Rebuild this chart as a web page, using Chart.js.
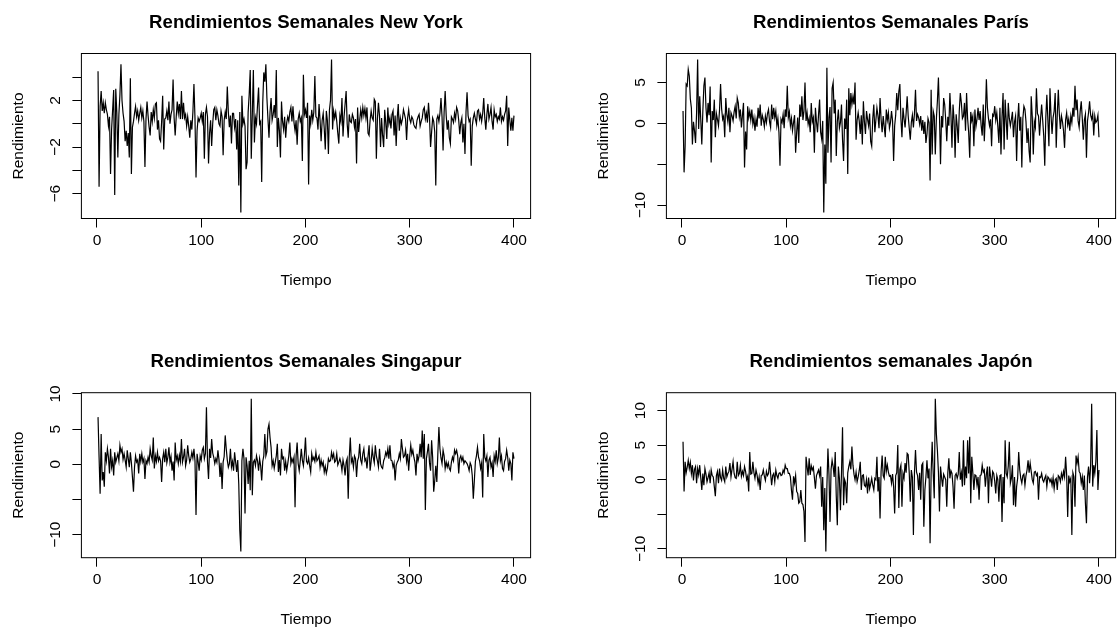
<!DOCTYPE html>
<html>
<head>
<meta charset="utf-8">
<script src="https://cdn.jsdelivr.net/npm/chart.js@4.4.1/dist/chart.umd.min.js"></script>
<style>
  body { margin: 0; background: #fff; width: 1118px; height: 632px; overflow: hidden; position: relative; }
  canvas { position: absolute; }
</style>
</head>
<body>
<canvas id="ny" width="559" height="316" style="left:0px;top:0px"></canvas>
<canvas id="paris" width="559" height="316" style="left:559px;top:0px"></canvas>
<canvas id="singapur" width="559" height="316" style="left:0px;top:316px"></canvas>
<canvas id="japon" width="559" height="316" style="left:559px;top:316px"></canvas>
<script>
// weekly returns (t = 1..400)
var nyRend = [
  4.5,-5.4,1.5,2.8,1.1,1.8,0.9,1.8,1.2,0.8, -0.2,0.6,-4.3,-0.5,1.2,2.9,-6.1,3.0,1.0,-2.9,
  0.8,2.5,5.1,2.0,0.9,0.2,-1.5,-0.6,-1.9,-0.8, -2.9,3.9,-4.3,-0.3,0.2,0.9,1.5,0.6,1.1,0.3,
  0.9,1.4,0.5,1.1,0.2,-3.7,0.4,1.9,0.7,-0.3, -1.0,1.0,0.2,1.2,0.5,1.7,1.8,-0.5,0.3,-1.3,
  -1.5,0.2,2.4,-2.2,0.4,0.5,1.1,0.3,1.9,0.0, 0.8,1.2,3.8,0.5,-1.0,0.6,1.9,0.9,1.7,0.4,
  2.8,0.4,1.8,0.5,0.8,-0.2,0.6,-0.2,-1.2,0.3, -0.5,1.0,3.4,0.5,-4.6,-0.6,0.5,0.2,0.5,0.9,
  0.2,1.0,-3.0,0.8,1.4,0.6,-3.4,-0.8,0.3,-1.9, 0.0,1.2,1.4,0.3,1.2,0.7,0.0,-0.2,1.1,0.6,
  -2.7,0.3,1.0,0.4,3.2,1.0,-0.3,0.7,-1.7,0.9, 0.9,-0.3,0.4,-2.2,0.3,-5.3,1.0,-7.6,2.4,0.0,
  0.4,-0.2,-3.9,-3.3,1.0,2.5,4.6,-3.0,0.8,4.6, -1.6,0.5,0.0,1.6,3.1,0.0,0.2,-5.0,1.8,4.4,
  3.6,5.1,2.2,0.4,-1.2,1.0,2.2,0.3,0.8,1.6, 0.5,4.6,-2.0,0.5,-0.6,-2.9,1.9,0.2,-0.5,0.6,
  -1.2,0.1,0.6,0.2,1.0,1.4,0.2,1.5,0.1,-0.6, 0.3,-1.8,0.4,0.9,0.2,0.5,-3.2,4.2,0.8,1.2,
  0.5,1.8,-5.2,0.7,0.0,1.2,0.3,1.0,4.1,0.6, 0.5,-0.5,1.7,0.3,-1.5,0.3,0.9,-0.4,-2.2,1.1,
  0.3,-2.6,1.2,2.0,5.5,-0.5,1.1,0.5,1.0,0.2, -0.8,-1.7,0.7,0.2,2.2,-1.1,0.6,1.7,2.8,0.0,
  -1.2,0.8,0.2,0.1,0.8,0.5,-0.3,0.4,-3.4,1.4, -0.7,0.3,1.2,0.5,1.4,0.7,1.3,0.5,1.4,-0.8,
  -1.0,0.3,1.1,0.5,0.3,2.1,1.9,-3.0,0.4,1.8, 0.7,-2.0,0.5,-1.0,-2.0,1.2,0.1,-1.3,1.4,0.0,
  0.5,-0.4,0.8,1.1,-1.0,0.7,-1.9,0.5,1.7,-0.6, 0.5,0.0,0.4,1.2,0.8,0.4,-1.4,0.5,1.2,0.4,
  0.1,0.6,0.4,-0.1,-0.3,-0.4,0.3,0.6,0.8,-0.2, 0.2,0.5,1.2,1.4,0.4,0.9,0.1,1.8,0.5,-2.0,
  -0.7,0.5,0.2,-0.7,-5.3,0.4,0.7,0.2,0.9,2.2, 0.6,-2.3,1.0,2.8,0.7,-0.5,0.3,-1.2,-1.7,0.6,
  0.4,0.1,0.9,0.4,1.4,1.1,0.3,-0.9,0.1,0.5, -1.6,0.0,-2.6,1.0,2.7,0.7,0.2,0.4,-3.6,-0.2,
  0.5,0.9,0.4,0.0,1.1,1.2,0.4,0.8,0.2,0.9, 2.2,0.5,-0.5,0.8,1.7,0.4,0.8,1.4,0.2,-0.5,
  1.2,0.6,0.8,0.2,0.6,0.4,1.4,0.2,0.6,0.3, 0.8,1.1,2.4,-1.9,1.4,0.3,-0.6,0.5,-0.6,0.7
];
var parisRend = [
  1.5,-6.0,-2.8,4.8,4.6,6.6,5.8,3.0,1.9,-2.6, 0.2,-0.9,-2.4,1.3,7.8,-0.7,3.3,0.5,-2.6,1.5,
  4.6,5.6,1.9,0.1,2.5,1.0,4.5,-4.8,1.5,0.4, 2.9,-1.7,1.2,0.5,-0.3,1.6,4.8,1.8,0.5,0.9,
  -1.7,3.1,1.1,0.2,1.9,-1.1,1.3,0.9,0.3,1.4, 2.1,0.6,3.1,2.5,0.8,1.7,-0.5,1.0,2.5,-5.4,
  -1.0,-3.2,2.1,0.7,1.5,0.4,1.7,-0.1,0.7,-0.9, 0.5,-0.4,1.9,0.6,2.3,-0.3,1.0,0.5,-0.4,0.9,
  0.1,1.2,1.7,0.2,-0.5,2.3,0.5,1.9,0.7,1.5, -0.3,0.6,-1.1,-5.2,0.5,0.1,1.1,-0.6,1.7,0.8,
  4.6,0.7,1.4,-0.3,0.6,-0.9,0.1,1.0,-3.6,-1.1, 0.7,-2.4,2.3,0.8,3.3,0.4,1.5,5.0,0.3,1.3,
  -0.1,0.6,-1.1,2.5,0.2,0.7,-3.6,1.9,0.2,-1.1, 1.1,2.9,-1.1,-1.9,0.3,-10.9,-2.6,-7.4,6.8,-3.6,
  0.7,2.0,-4.8,4.3,5.0,1.2,2.9,-4.0,0.2,1.7, -0.6,0.1,2.3,-2.0,-4.6,0.6,-0.7,2.9,-6.2,4.3,
  1.0,3.7,2.3,3.3,2.3,5.0,-2.0,0.4,1.3,0.3, -1.3,1.0,-2.6,2.7,0.2,-1.3,1.5,0.5,-0.3,1.2,
  -2.2,-2.8,0.6,2.3,-1.1,0.4,1.9,0.9,-0.6,3.1, 0.5,-1.1,0.9,-0.4,-1.7,1.7,0.4,1.3,-0.6,0.1,
  1.5,0.3,-4.6,-0.3,1.0,3.7,1.6,3.9,4.8,0.6, -1.7,1.9,0.6,-0.5,1.2,3.3,0.9,-0.6,-2.0,0.1,
  1.0,-0.5,1.2,4.1,0.3,1.1,0.7,-0.1,0.9,-0.9, 0.4,-1.3,0.2,-2.4,-1.3,0.6,0.1,-7.0,4.1,-3.8,
  1.5,0.9,-3.8,0.5,2.7,5.6,1.0,-5.0,0.9,-0.5, 3.1,2.3,0.4,-2.2,0.8,-0.3,3.7,1.0,-3.0,2.3,
  0.4,-4.2,1.1,-0.3,-2.4,1.5,3.7,2.5,0.6,0.9, 2.5,-0.9,3.7,0.6,-1.1,-4.2,1.4,0.3,0.9,-2.8,
  1.7,-0.4,0.5,1.9,0.4,1.5,-0.3,-1.5,2.3,-2.2, 0.8,5.4,1.9,0.6,-0.3,0.5,-2.8,1.1,0.9,2.1,
  0.4,1.3,-0.4,-2.4,1.9,-3.8,0.8,3.7,-3.2,2.9, 0.4,-2.0,2.5,0.6,-0.3,0.5,1.4,-1.7,0.2,0.9,
  -4.6,0.3,2.5,-0.9,0.8,-5.4,0.6,2.1,1.7,0.2, -2.4,-0.6,-3.4,-4.8,3.3,0.9,-3.8,0.2,-0.5,4.3,
  1.2,0.9,-1.5,0.6,2.3,0.4,-1.5,-5.2,0.7,3.5, 0.4,-2.8,4.3,1.0,-1.3,0.7,1.5,3.7,-3.0,1.0,
  4.1,1.1,-0.7,0.9,0.2,-0.9,-3.0,0.4,1.3,-0.2, 0.5,-0.9,0.9,0.1,1.9,0.8,4.6,1.6,2.9,0.3,
  -0.5,1.5,2.7,0.6,-2.0,0.4,1.1,-4.2,0.3,1.3, 2.7,1.0,0.5,1.2,-1.5,0.9,0.1,0.3,1.0,-1.7
];
var singapurRend = [
  6.7,1.0,-4.2,4.3,-2.3,-1.1,-3.2,1.7,0.5,2.2, 1.0,-1.3,2.2,-0.4,0.5,-1.6,1.7,0.3,0.9,1.5,
  0.5,2.7,1.7,2.2,0.7,1.5,0.6,-0.4,2.0,0.8, -0.4,1.7,0.2,-1.8,-3.9,-0.4,1.2,0.3,0.6,-1.3,
  1.5,0.4,1.5,0.3,0.8,-2.1,0.5,0.1,1.0,0.3, 2.2,1.2,0.6,3.8,-0.6,1.2,0.4,1.7,0.5,1.0,
  0.5,-2.5,0.8,1.7,0.3,2.2,0.2,1.0,2.4,0.3, 1.1,-0.9,0.4,-2.3,3.1,0.6,1.2,0.1,1.3,0.4,
  3.6,0.3,1.0,2.2,-0.2,0.6,2.7,1.2,0.3,0.8, 1.7,0.9,2.2,0.5,-7.2,1.5,0.4,-0.9,1.2,0.6,
  2.0,2.4,0.8,1.5,8.1,0.4,-2.1,2.2,0.9,3.6, 1.6,1.0,0.1,0.8,0.3,2.0,0.7,-1.8,0.2,-3.5,
  0.3,1.1,4.1,2.2,0.6,-0.4,0.1,2.2,-0.4,0.4, -0.9,1.7,0.3,-1.1,0.6,-2.8,-9.4,-12.4,0.5,2.2,
  0.8,-7.0,1.0,-0.2,-2.8,0.5,-3.7,9.3,-4.4,0.3, 0.6,-0.2,1.2,0.5,-0.9,0.8,-0.2,-2.3,0.4,1.2,
  4.3,1.2,1.8,5.0,5.7,3.8,2.4,-0.2,0.5,-0.6, 0.3,1.2,2.9,-1.1,0.6,-1.6,2.2,0.8,1.0,-0.9,
  0.4,-0.9,0.1,1.2,3.1,0.1,0.8,0.3,1.0,-6.1, 1.2,3.1,0.1,-0.9,0.5,2.2,0.6,-0.2,1.4,3.8,
  0.4,0.1,0.9,-0.2,-1.1,1.5,0.6,1.0,0.4,1.7, 0.5,0.8,1.2,-0.4,0.6,-0.2,0.3,-1.1,-0.3,-1.3,
  -0.6,0.8,0.4,0.5,1.7,0.9,1.5,0.3,0.5,1.5, -0.1,0.3,0.8,0.2,-0.9,0.6,-0.2,-1.6,0.3,0.8,
  -4.9,1.0,3.8,0.3,0.8,-0.4,1.2,0.8,-1.8,0.5, 1.0,2.9,0.6,0.1,1.5,2.2,0.5,0.8,-0.6,1.2,
  2.7,-0.9,0.4,2.2,1.0,0.2,2.7,1.2,0.5,-0.4, 2.2,0.1,-0.4,-0.6,0.5,0.9,1.7,1.2,2.2,0.8,
  2.7,0.6,0.5,-0.4,0.2,-2.3,-0.2,0.3,0.6,1.5, 0.8,3.6,2.2,1.0,1.2,2.0,0.4,1.5,-0.9,1.2,
  2.7,1.4,2.0,1.0,0.3,-1.6,1.5,0.5,1.2,2.9, 1.0,4.8,0.8,4.3,-6.5,0.8,1.8,2.9,0.2,-0.9,
  3.4,1.0,-3.9,-2.3,-0.2,-2.5,1.6,5.3,2.2,0.9, 0.1,2.0,1.2,-0.6,0.3,-0.4,0.2,-0.6,-0.9,0.3,
  1.0,0.5,2.0,1.5,2.0,1.2,-1.3,0.8,1.2,0.5, 1.0,0.1,0.5,0.3,0.1,-0.3,-0.9,0.2,-0.2,-1.6,
  -4.9,-2.3,0.4,1.2,2.4,1.0,0.5,-0.6,0.2,-4.7, 4.3,1.0,0.5,1.2,-1.8,0.6,1.0,-0.4,0.2,-1.8,
  1.2,0.4,2.0,0.1,0.9,3.8,0.5,1.2,-0.6,-0.9, 0.4,0.8,2.0,1.0,-0.9,0.6,0.1,-2.3,1.7,0.8
];
var japonRend = [
  5.5,-1.7,2.6,1.0,1.8,2.8,1.6,2.5,0.9,2.1, -0.1,1.5,1.9,-0.5,1.6,0.7,2.1,0.3,-1.5,0.9,
  -0.8,1.6,0.8,-0.3,0.3,1.0,-0.5,1.4,0.6,0.4, -1.0,-2.4,0.6,1.2,-0.5,1.6,0.3,-0.1,1.4,0.2,
  -0.3,1.9,0.4,0.9,1.2,2.4,0.4,1.5,2.6,0.9, 0.3,0.2,2.6,0.6,0.9,2.1,0.5,1.2,0.6,1.9,
  1.2,0.0,0.5,-1.7,4.0,0.8,0.9,2.6,1.0,0.2, 1.4,0.7,-0.5,0.4,-1.5,0.6,0.7,1.4,0.5,-0.1,
  1.2,0.6,0.9,2.6,0.9,-0.8,0.6,0.9,-0.3,1.4, 0.6,0.2,0.9,1.0,0.6,0.7,1.4,1.0,2.1,1.6,
  1.6,0.9,0.9,0.4,-1.5,-2.9,0.5,-0.5,0.6,-1.7, -2.0,-3.4,-3.2,-1.5,-3.4,-3.6,-4.6,-9.0,3.3,1.9,
  0.6,3.1,0.7,2.0,1.4,1.8,0.3,-1.3,0.6,1.0, 1.4,0.6,1.9,-3.9,0.4,-7.3,-1.2,-10.4,-1.0,4.5,
  0.8,-6.1,1.5,2.8,1.9,0.4,4.0,-2.4,-6.6,1.9, 0.2,-4.4,0.9,7.6,-3.7,0.0,-0.5,-3.4,1.0,1.9,
  2.6,1.5,4.8,2.1,0.8,0.0,1.1,-0.3,0.4,1.3, 2.6,-1.5,0.6,0.7,-0.8,-1.0,0.0,-2.0,0.3,-1.3,
  -0.6,0.2,-0.8,-1.5,0.2,0.0,3.3,-1.7,0.4,-5.6, 1.2,3.5,0.6,0.2,3.3,1.2,2.1,1.1,0.5,0.6,
  -0.5,0.8,-1.0,-4.9,0.6,1.0,5.0,-4.1,1.5,2.1, -3.9,0.9,0.2,2.4,1.0,3.8,3.6,1.0,-3.2,1.4,
  0.4,-8.0,1.0,4.3,1.1,0.6,-1.5,1.0,-2.9,2.1, 2.4,-6.8,-1.5,0.4,2.8,0.2,1.6,-9.2,1.0,5.5,
  0.9,-2.7,11.7,6.7,4.3,1.1,-4.6,1.9,0.3,-1.0, 0.8,0.4,0.0,-3.9,1.0,3.1,0.2,1.3,0.9,-1.0,
  -4.2,0.6,0.9,0.2,0.8,4.0,0.0,1.0,-1.0,5.7, -0.8,1.9,0.2,5.7,0.9,6.2,-3.4,3.3,1.0,-1.5,
  0.7,0.6,-0.8,0.4,-2.9,0.6,0.7,2.1,1.1,1.4, -1.0,0.8,1.9,-3.4,1.9,0.5,-1.0,1.2,0.9,-0.2,
  -2.0,0.6,0.0,-3.2,0.6,0.7,-6.1,0.4,-3.4,5.7, 0.9,0.4,2.0,5.5,-0.5,0.2,2.1,-3.7,0.4,-3.9,
  -1.0,0.2,4.0,1.4,0.2,-0.5,0.6,0.8,-0.8,0.6, 1.4,2.8,1.0,2.4,1.2,0.0,-0.5,1.1,1.2,0.6,
  0.9,-2.9,0.4,0.3,0.9,0.0,-0.3,0.2,0.6,-1.0, 0.4,0.2,-0.3,0.1,-0.8,0.3,-1.3,0.0,0.2,-1.5,
  0.6,0.4,-0.3,0.9,0.2,1.2,0.4,3.3,0.7,-5.4, 0.6,-0.3,0.2,-8.0,1.0,0.4,-3.9,3.5,2.4,3.3,
  1.2,0.9,-0.5,0.4,-1.5,0.6,-3.4,-6.3,0.4,1.9, -0.5,2.0,11.0,-1.0,2.1,0.9,2.6,7.2,-1.5,1.4
];

var tiempo = nyRend.map(function (v, i) { return i + 1; });

// tick marks and the labels R actually printed
var ticksX = [0, 100, 200, 300, 400];
var nyTicks = [-6, -4, -2, 0, 2, 4];
var nyLabels = [-6, -2, 2];
var parisTicks = [-10, -5, 0, 5];
var parisLabels = [-10, 0, 5];
var singapurTicks = [-10, -5, 0, 5, 10];
var singapurLabels = [-10, 0, 5, 10];
var japonTicks = [-10, -5, 0, 5, 10];
var japonLabels = [-10, 0, 5, 10];

var FONT = '"Liberation Sans", Arial, Helvetica, sans-serif';
var AXIS_SIZE = 15.5;
var TITLE_SIZE = 18.6;
var Y_AXIS_W = 72.3;
var X_AXIS_H = 71.8;

// R pads the data range by 4% on each side
function range4(vals) {
    var lo = Math.min.apply(null, vals), hi = Math.max.apply(null, vals);
    var d = (hi - lo) * 0.04;
    return [lo - d, hi + d];
}

// box around the plot region + vertical y tick labels like R
var boxPlugin = {
    id: 'boxPlugin',
    afterDraw: function (chart, args, opts) {
        var ctx = chart.ctx, a = chart.chartArea, y = chart.scales.y;
        ctx.save();
        ctx.strokeStyle = '#000';
        ctx.lineWidth = 1;
        ctx.strokeRect(a.left, a.top, a.right - a.left, a.bottom - a.top);
        ctx.fillStyle = '#000';
        ctx.font = AXIS_SIZE + 'px ' + FONT;
        ctx.textAlign = 'center';
        ctx.textBaseline = 'middle';
        opts.labels.forEach(function (v) {
            ctx.save();
            ctx.translate(a.left - 26, y.getPixelForValue(v));
            ctx.rotate(-Math.PI / 2);
            ctx.fillText(String(v).replace('-', '\u2212'), 0, 0);
            ctx.restore();
        });
        ctx.restore();
    }
};

function drawPanel(id, title, vals, yTicks, yLabels, box) {
    var W = 559, H = 316;
    var r = range4(vals);
    new Chart(document.getElementById(id), {
        type: 'line',
        data: {
            datasets: [{
                data: tiempo.map(function (t, i) { return { x: t, y: vals[i] }; }),
                borderColor: '#000',
                borderWidth: 1.2,
                pointRadius: 0,
                tension: 0,
                fill: false
            }]
        },
        plugins: [boxPlugin],
        options: {
            responsive: false,
            animation: false,
            devicePixelRatio: 1,
            layout: {
                padding: { left: box.left - Y_AXIS_W, right: W - box.right, top: 0, bottom: H - box.bottom - X_AXIS_H }
            },
            plugins: {
                legend: { display: false },
                tooltip: { enabled: false },
                title: {
                    display: true,
                    text: title,
                    fullSize: false,
                    color: '#000',
                    font: { family: FONT, size: TITLE_SIZE, weight: 'bold', lineHeight: 1.2 },
                    padding: { top: box.titleY - TITLE_SIZE * 0.6, bottom: box.top - box.titleY - TITLE_SIZE * 0.6 }
                },
                boxPlugin: { labels: yLabels }
            },
            scales: {
                x: {
                    type: 'linear',
                    min: -14.96,
                    max: 415.96,
                    afterBuildTicks: function (s) { s.ticks = ticksX.map(function (v) { return { value: v }; }); },
                    afterFit: function (s) { s.height = X_AXIS_H; },
                    grid: { drawOnChartArea: false, drawTicks: true, tickLength: 9, color: '#000' },
                    border: { display: false },
                    ticks: { color: '#000', font: { family: FONT, size: AXIS_SIZE }, padding: 4, maxRotation: 0, autoSkip: false },
                    title: { display: true, text: 'Tiempo', color: '#000', font: { family: FONT, size: AXIS_SIZE, lineHeight: 1.2 }, padding: 0 }
                },
                y: {
                    type: 'linear',
                    min: r[0],
                    max: r[1],
                    afterBuildTicks: function (s) { s.ticks = yTicks.map(function (v) { return { value: v }; }); },
                    afterFit: function (s) { s.width = Y_AXIS_W; },
                    grid: { drawOnChartArea: false, drawTicks: true, tickLength: 9, color: '#000' },
                    border: { display: false },
                    ticks: { display: false },
                    title: { display: true, text: 'Rendimiento', color: '#000', font: { family: FONT, size: AXIS_SIZE, lineHeight: 1.2 }, padding: 0 }
                }
            }
        }
    });
}

drawPanel('ny', 'Rendimientos Semanales New York', nyRend, nyTicks, nyLabels,
    { left: 81.4, right: 530.6, top: 53.5, bottom: 218.5, titleY: 23 });
drawPanel('paris', 'Rendimientos Semanales París', parisRend, parisTicks, parisLabels,
    { left: 107.4, right: 556.6, top: 53.5, bottom: 218.5, titleY: 23 });
drawPanel('singapur', 'Rendimientos Semanales Singapur', singapurRend, singapurTicks, singapurLabels,
    { left: 81.4, right: 530.6, top: 76.7, bottom: 241.7, titleY: 46 });
drawPanel('japon', 'Rendimientos semanales Japón', japonRend, japonTicks, japonLabels,
    { left: 107.4, right: 556.6, top: 76.7, bottom: 241.7, titleY: 46 });
</script>
</body>
</html>
